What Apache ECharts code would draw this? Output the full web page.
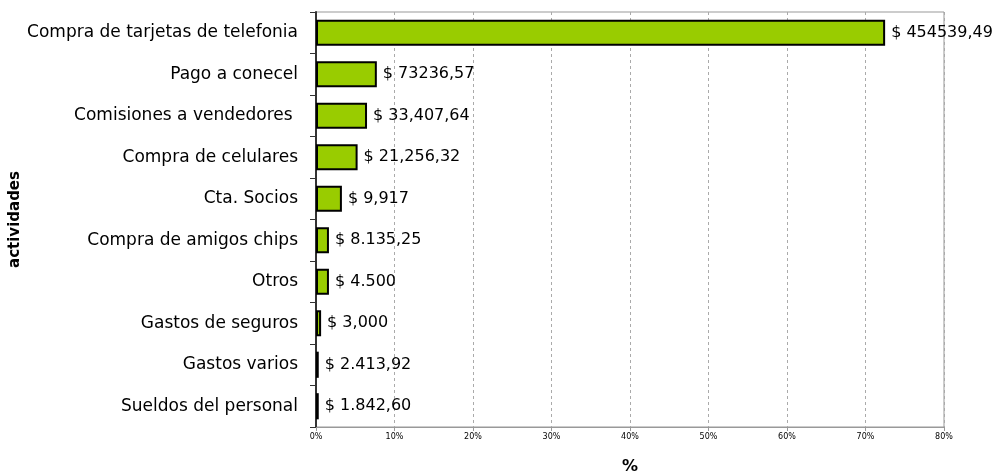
<!DOCTYPE html>
<html>
<head>
<meta charset="utf-8">
<script src="https://cdn.jsdelivr.net/npm/echarts@6/dist/echarts.min.js"></script>
<style>
  html, body { margin: 0; padding: 0; background: #fff; }
  #chart { width: 1006px; height: 475px; }
</style>
</head>
<body>
<div id="chart"></div>
<script>
const categories = [
  'Compra de tarjetas de telefonia', 'Pago a conecel', 'Comisiones a vendedores ',
  'Compra de celulares', 'Cta. Socios', 'Compra de amigos chips', 'Otros',
  'Gastos de seguros', 'Gastos varios', 'Sueldos del personal',
]
const percents = [72.5, 7.75, 6.5, 5.3, 3.3, 1.65, 1.65, 0.65, 0.35, 0.35]
const amountLabels = [
  '$ 454539,49', '$ 73236,57', '$ 33,407,64', '$ 21,256,32', '$ 9,917',
  '$ 8.135,25', '$ 4.500', '$ 3,000', '$ 2.413,92', '$ 1.842,60',
]
const xTicks = [0, 10, 20, 30, 40, 50, 60, 70, 80]

const FONT = 'DejaVu Sans, sans-serif'
const chart = echarts.init(document.getElementById('chart'), null, { renderer: 'canvas' })

chart.setOption({
  animation: false,
  grid: {
    left: 316, right: 62, top: 12, bottom: 48,
    outerBoundsMode: 'none',
    show: true, borderColor: '#999', borderWidth: 1,
  },
  xAxis: {
    type: 'value', min: xTicks[0], max: xTicks[xTicks.length - 1], interval: 10,
    name: '%', nameLocation: 'middle', nameGap: 32,
    nameTextStyle: { fontFamily: FONT, fontSize: 16, fontWeight: 'bold', color: '#000' },
    axisLine: { show: true, lineStyle: { color: '#999', width: 1 } },
    axisTick: { show: true, length: 4, lineStyle: { color: '#999' } },
    axisLabel: { formatter: '{value}%', fontFamily: FONT, fontSize: 8, color: '#000', margin: 6 },
    splitLine: { show: true, lineStyle: { color: '#aaa', type: [3, 3], width: 1 } },
  },
  yAxis: {
    type: 'category', data: categories, inverse: true,
    name: 'actividades', nameLocation: 'middle', nameGap: 293, nameRotate: 90,
    nameMoveOverlap: false,
    nameTextStyle: { fontFamily: FONT, fontSize: 15, fontWeight: 'bold', color: '#000' },
    axisLine: { show: true, lineStyle: { color: '#333', width: 2 } },
    axisTick: { show: true, length: 6, lineStyle: { color: '#333' } },
    axisLabel: { fontFamily: FONT, fontSize: 17, color: '#000', margin: 18 },
  },
  series: [{
    type: 'bar',
    data: percents,
    barCategoryGap: '37%',
    itemStyle: { color: '#99cc00', borderColor: '#000', borderWidth: 2 },
    label: {
      show: true, position: 'right', distance: 6,
      fontFamily: FONT, fontSize: 16, color: '#000',
      formatter: p => amountLabels[p.dataIndex],
    },
  }],
})
</script>
</body>
</html>
